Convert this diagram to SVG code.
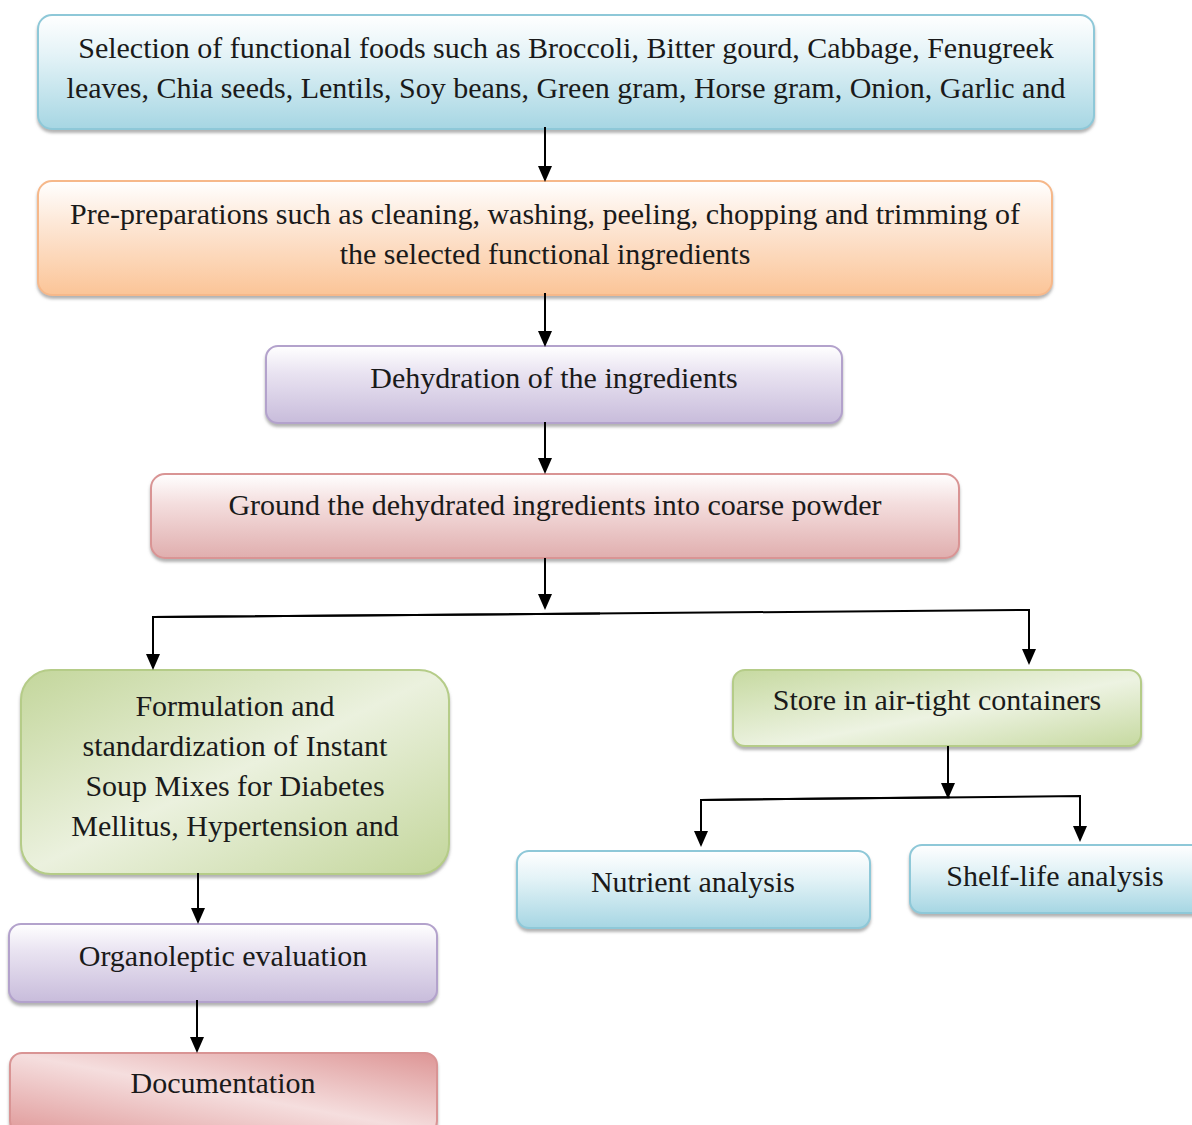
<svg xmlns="http://www.w3.org/2000/svg" width="1192" height="1125" viewBox="0 0 1192 1125">
<defs>
<linearGradient id="gBlue" x1="0" y1="0" x2="0" y2="1"><stop offset="0" stop-color="#ffffff"/><stop offset="0.35" stop-color="#e4f3f7"/><stop offset="1" stop-color="#a6d6e3"/></linearGradient>
<linearGradient id="gOrange" x1="0" y1="0" x2="0" y2="1"><stop offset="0" stop-color="#ffffff"/><stop offset="0.35" stop-color="#fde9d9"/><stop offset="1" stop-color="#fbc497"/></linearGradient>
<linearGradient id="gPurple" x1="0" y1="0" x2="0" y2="1"><stop offset="0" stop-color="#ffffff"/><stop offset="0.35" stop-color="#e9e3f1"/><stop offset="1" stop-color="#c8bcdb"/></linearGradient>
<linearGradient id="gRed" x1="0" y1="0" x2="0" y2="1"><stop offset="0" stop-color="#ffffff"/><stop offset="0.35" stop-color="#f4dede"/><stop offset="1" stop-color="#e0aeae"/></linearGradient>
<linearGradient id="gGreen" x1="0" y1="0" x2="1" y2="1"><stop offset="0" stop-color="#c3d69b"/><stop offset="0.5" stop-color="#ebf1de"/><stop offset="1" stop-color="#c3d69b"/></linearGradient>
<linearGradient id="gGreen2" x1="0" y1="0" x2="1" y2="1"><stop offset="0" stop-color="#c6d9a0"/><stop offset="0.55" stop-color="#edf3e2"/><stop offset="1" stop-color="#c6d9a0"/></linearGradient>
<linearGradient id="gRed2" x1="0" y1="1" x2="1" y2="0"><stop offset="0" stop-color="#e09a9a"/><stop offset="0.5" stop-color="#f5dede"/><stop offset="1" stop-color="#dd9595"/></linearGradient>
<filter id="sh" x="-5%" y="-10%" width="110%" height="130%"><feDropShadow dx="0" dy="3" stdDeviation="1.5" flood-color="#808080" flood-opacity="0.6"/></filter>
<marker id="ah2" markerWidth="16" markerHeight="14" refX="14" refY="7" orient="auto" markerUnits="userSpaceOnUse" viewBox="0 0 16 14"><path d="M0,0 L16,7 L0,14 z" fill="#000"/></marker>
</defs>
<style>
text{font-family:"Liberation Serif","Times New Roman",serif;font-size:30px;fill:#1a1a1a;text-anchor:middle}
.b{stroke-width:2}
.blue{fill:url(#gBlue);stroke:#8ec8d8}
.orange{fill:url(#gOrange);stroke:#f6b88a}
.purple{fill:url(#gPurple);stroke:#b3a2cc}
.red{fill:url(#gRed);stroke:#d99494}
.conn{stroke:#000;stroke-width:2;fill:none}
</style>
<g id="n1"><rect class="b blue" x="38" y="15" width="1056" height="114" rx="14" filter="url(#sh)"/>
<text x="566" y="58">Selection of functional foods such as Broccoli, Bitter gourd, Cabbage, Fenugreek</text>
<text x="566" y="98">leaves, Chia seeds, Lentils, Soy beans, Green gram, Horse gram, Onion, Garlic and</text></g>
<g id="n2"><rect class="b orange" x="38" y="181" width="1014" height="114" rx="14" filter="url(#sh)"/>
<text x="545" y="224">Pre-preparations such as cleaning, washing, peeling, chopping and trimming of</text>
<text x="545" y="264">the selected functional ingredients</text></g>
<g id="n3"><rect class="b purple" x="266" y="346" width="576" height="77" rx="12" filter="url(#sh)"/>
<text x="554" y="388">Dehydration of the ingredients</text></g>
<g id="n4"><rect class="b red" x="151" y="474" width="808" height="84" rx="14" filter="url(#sh)"/>
<text x="555" y="515">Ground the dehydrated ingredients into coarse powder</text></g>
<g id="n5"><rect class="b" fill="url(#gGreen)" stroke="#b5cc88" x="21" y="670" width="428" height="204" rx="30" filter="url(#sh)"/>
<text x="235" y="716">Formulation and</text>
<text x="235" y="756">standardization of Instant</text>
<text x="235" y="796">Soup Mixes for Diabetes</text>
<text x="235" y="836">Mellitus, Hypertension and</text></g>
<g id="n6"><rect class="b" fill="url(#gGreen2)" stroke="#b5cc88" x="733" y="670" width="408" height="76" rx="12" filter="url(#sh)"/>
<text x="937" y="710">Store in air-tight containers</text></g>
<g id="n7"><rect class="b blue" x="517" y="851" width="353" height="77" rx="12" filter="url(#sh)"/>
<text x="693" y="892">Nutrient analysis</text></g>
<g id="n8"><rect class="b blue" x="910" y="845" width="300" height="68" rx="12" filter="url(#sh)"/>
<text x="1055" y="886">Shelf-life analysis</text></g>
<g id="n9"><rect class="b purple" x="9" y="924" width="428" height="78" rx="12" filter="url(#sh)"/>
<text x="223" y="966">Organoleptic evaluation</text></g>
<g id="n10"><rect class="b" fill="url(#gRed2)" stroke="#d99494" x="10" y="1053" width="427" height="80" rx="12" filter="url(#sh)"/>
<text x="223" y="1093">Documentation</text></g>
<g id="connectors">
<line class="conn" x1="545" y1="127" x2="545" y2="180" marker-end="url(#ah2)"/>
<line class="conn" x1="545" y1="293" x2="545" y2="345" marker-end="url(#ah2)"/>
<line class="conn" x1="545" y1="422" x2="545" y2="472" marker-end="url(#ah2)"/>
<line class="conn" x1="545" y1="558" x2="545" y2="608" marker-end="url(#ah2)"/>
<path class="conn" d="M600,613.42 L153,617 L153,668" marker-end="url(#ah2)"/>
<path class="conn" d="M153,617 L1029,610 L1029,663" marker-end="url(#ah2)"/>
<line class="conn" x1="948" y1="746" x2="948" y2="797" marker-end="url(#ah2)"/>
<path class="conn" d="M950,797.37 L701,800 L701,845" marker-end="url(#ah2)"/>
<path class="conn" d="M701,800 L1080,796 L1080,840" marker-end="url(#ah2)"/>
<line class="conn" x1="198" y1="873" x2="198" y2="922" marker-end="url(#ah2)"/>
<line class="conn" x1="197" y1="1000" x2="197" y2="1051" marker-end="url(#ah2)"/>
</g>
</svg>
